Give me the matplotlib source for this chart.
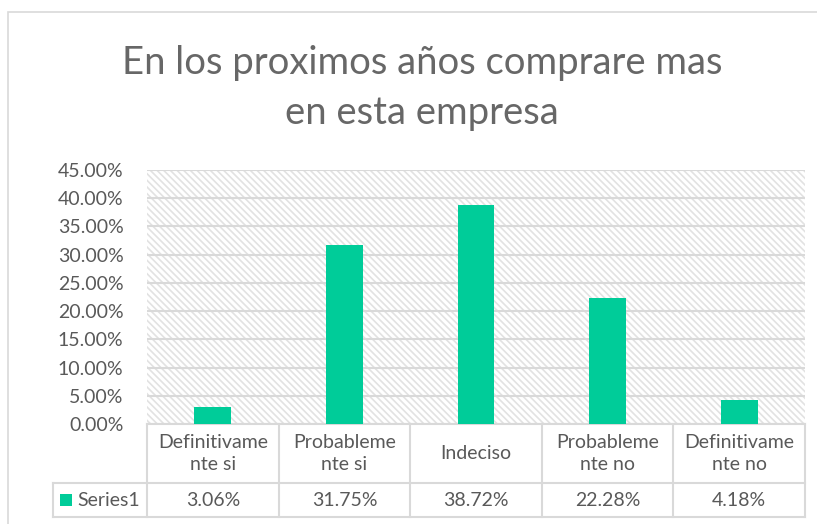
import numpy as np
import matplotlib
matplotlib.use("Agg")
from matplotlib import pyplot as plt
from matplotlib.patches import Rectangle

# Chart data.
categories = ["Definitivame\nnte si", "Probableme\nnte si", "Indeciso",
              "Probableme\nnte no", "Definitivame\nnte no"]
values = [3.06, 31.75, 38.72, 22.28, 4.18]
series_name = "Series1"
yticks = [0, 5, 10, 15, 20, 25, 30, 35, 40, 45]
title = "En los proximos años comprare mas\nen esta empresa"

green = "#00CC99"
text_col = "#595959"
grid_col = "#D9D9D9"

plt.rcParams['font.family'] = ['Lato', 'DejaVu Sans']
plt.rcParams['hatch.color'] = "#E2E2E2"
plt.rcParams['hatch.linewidth'] = 1.2

W, H = 817, 524
fig = plt.figure(figsize=(W / 100, H / 100), dpi=100)

# outer chart frame
fig.patches.append(Rectangle((8 / W, -0.1), 1.1, 1 - 12 / H + 0.1,
                             transform=fig.transFigure, fill=False,
                             edgecolor=grid_col, linewidth=1.2))

left, right, top, bottom = 147, 805, 170, 424
ax = fig.add_axes([left / W, 1 - bottom / H, (right - left) / W,
                   (bottom - top) / H])

x = np.arange(len(values))
ax.set_xlim(-0.5, len(values) - 0.5)
ax.set_ylim(0, 45)

# hatched background
ax.add_patch(Rectangle((0, 0), 1, 1, transform=ax.transAxes, facecolor="white",
                       hatch="\\" * 5, edgecolor="#E2E2E2", linewidth=0,
                       zorder=0))
for t in yticks:
    ax.axhline(t, color=grid_col, linewidth=1.5, zorder=1)

ax.bar(x, values, width=0.28, color=green, zorder=3)

ax.set_yticks(yticks)
ax.set_yticklabels(["{:.2f}%".format(t) for t in yticks], fontsize=14,
                   color=text_col)
ax.tick_params(axis="y", length=0, pad=17)
ax.set_xticks([])
for s in ax.spines.values():
    s.set_visible(False)

# data table beneath the axis
ph = bottom - top
row1 = -(483 - bottom) / ph
row2 = -(517 - bottom) / ph
legend_left = (53 - left) / (right - left) * len(values) - 0.5
lkw = dict(color=grid_col, linewidth=1.5, clip_on=False,
           transform=ax.get_xaxis_transform())
for b in np.arange(len(values) + 1) - 0.5:
    ax.plot([b, b], [0, row2], **lkw)
ax.plot([-0.5, len(values) - 0.5], [0, 0], **lkw)
ax.plot([legend_left, len(values) - 0.5], [row1, row1], **lkw)
ax.plot([legend_left, len(values) - 0.5], [row2, row2], **lkw)
ax.plot([legend_left, legend_left], [row1, row2], **lkw)

tr = ax.get_xaxis_transform()
for i, (c, v) in enumerate(zip(categories, values)):
    ax.text(i, row1 / 2, c, ha="center", va="center", fontsize=14,
            color=text_col, transform=tr, linespacing=1.35)
    ax.text(i, (row1 + row2) / 2, "{:.2f}%".format(v), ha="center",
            va="center", fontsize=14, color=text_col, transform=tr)

# legend key (12 px square)
unit_x = len(values) / (right - left)
key_x = legend_left + 7 * unit_x
key_h = 12 / ph
ax.add_patch(Rectangle((key_x, (row1 + row2) / 2 - key_h / 2), 12 * unit_x,
                       key_h, transform=tr, facecolor=green, clip_on=False))
ax.text(key_x + 17 * unit_x, (row1 + row2) / 2, series_name, ha="left",
        va="center", fontsize=14, color=text_col, transform=tr)

fig.text(422 / W, 1 - 88 / H, title, ha="center", va="center", fontsize=27.5,
         color="#676767", linespacing=1.5)

fig.savefig("out.png", dpi=100)
